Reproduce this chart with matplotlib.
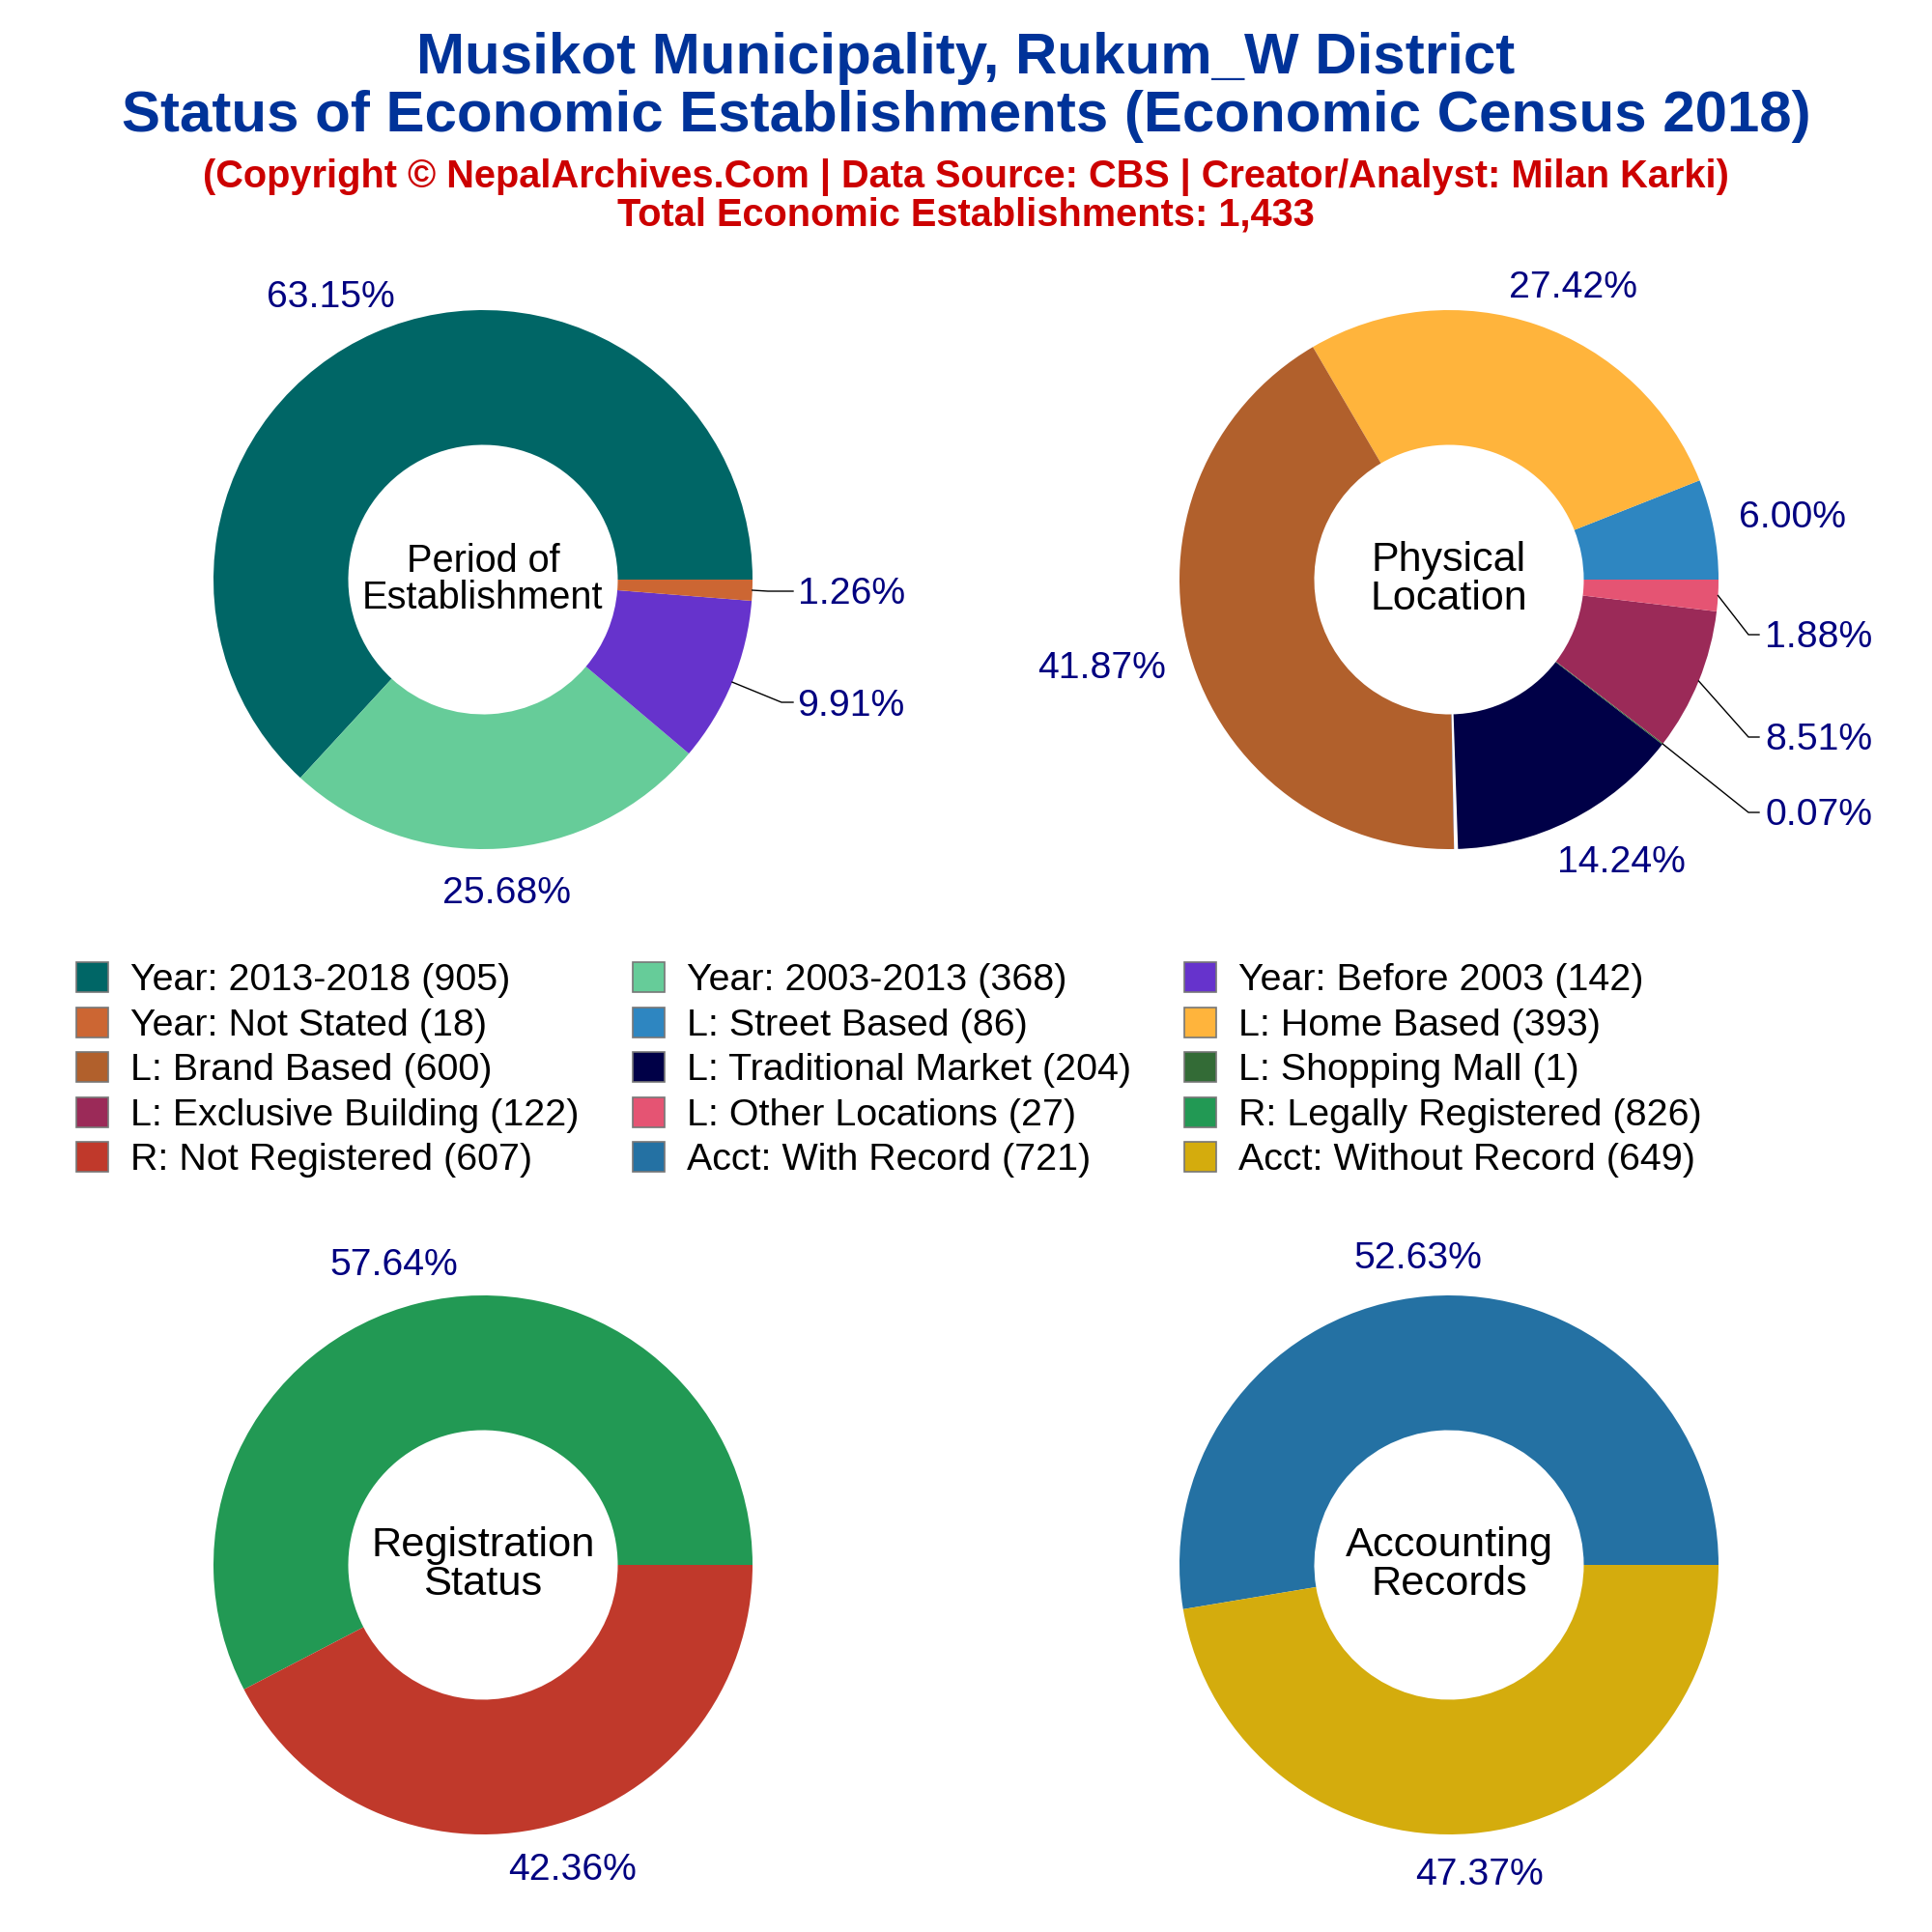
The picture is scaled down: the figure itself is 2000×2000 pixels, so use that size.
import matplotlib
matplotlib.use('Agg')
import matplotlib.pyplot as plt
import numpy as np
from matplotlib.patches import Patch, Wedge

plt.rcParams['font.family'] = ['Liberation Sans', 'DejaVu Sans']

period_labels = ['Year: 2013-2018', 'Year: 2003-2013', 'Year: Before 2003', 'Year: Not Stated']
period_values = [905, 368, 142, 18]
period_colors = ['#006666', '#66CC99', '#6633CC', '#CC6633']

location_labels = ['L: Street Based', 'L: Home Based', 'L: Brand Based', 'L: Traditional Market',
                   'L: Shopping Mall', 'L: Exclusive Building', 'L: Other Locations']
location_values = [86, 393, 600, 204, 1, 122, 27]
location_colors = ['#2E86C1', '#FFB43C', '#B1602C', '#000047', '#336B36', '#9B2A58', '#E55473']

registration_labels = ['R: Legally Registered', 'R: Not Registered']
registration_values = [826, 607]
registration_colors = ['#229954', '#C0392B']

account_labels = ['Acct: With Record', 'Acct: Without Record']
account_values = [721, 649]
account_colors = ['#2471A3', '#D4AC0D']

R_PX = 279.0
W = 2000.0

def to_units(x, y, cx, cy):
    # picture pixels to pie units
    return (x - cx) / R_PX, (cy - y) / R_PX

def donut(cx, cy, values, colors, center, center_size, texts, leaders):
    side = 2 * 1.25 * R_PX / W
    ax = fig.add_axes([cx / W - side / 2, 1 - cy / W - side / 2, side, side])
    wedges, _ = ax.pie(values, colors=colors, startangle=0, counterclock=True,
                       wedgeprops=dict(width=0.5, linewidth=0))
    ax.text(0, 0, center, ha='center', va='center', fontsize=center_size, color='black', linespacing=1.03)
    pct = 100 * np.array(values) / sum(values)
    for i, (tx, ty, ha) in texts.items():
        x, y = to_units(tx, ty + 3, cx, cy)
        ax.text(x, y, '%.2f%%' % pct[i], ha=ha, va='center', fontsize=14.1, color='#000080', clip_on=False)
    for i, (ex, ey, hx) in leaders.items():
        ang = np.deg2rad((wedges[i].theta1 + wedges[i].theta2) / 2)
        x1, y1 = to_units(ex, ey, cx, cy)
        x2, y2 = to_units(hx, ey, cx, cy)
        ax.plot([np.cos(ang), x1, x2], [np.sin(ang), y1, y2], color='black', lw=0.5, clip_on=False)
    return ax, wedges

fig = plt.figure(figsize=(10, 10), dpi=200, facecolor='white')

fig.text(0.5, 1 - 76 / W, 'Musikot Municipality, Rukum_W District', ha='center', va='baseline',
         fontsize=21.6, fontweight='bold', color='#003399')
fig.text(0.5, 1 - 136 / W, 'Status of Economic Establishments (Economic Census 2018)', ha='center', va='baseline',
         fontsize=21.6, fontweight='bold', color='#003399')
fig.text(0.5, 1 - 194 / W, '(Copyright © NepalArchives.Com | Data Source: CBS | Creator/Analyst: Milan Karki)',
         ha='center', va='baseline', fontsize=14.3, fontweight='bold', color='#CC0000')
fig.text(0.5, 1 - 233 / W, 'Total Economic Establishments: 1,433', ha='center', va='baseline',
         fontsize=14.3, fontweight='bold', color='#CC0000')

donut(500, 600, period_values, period_colors, 'Period of\nEstablishment', 14.3,
      {0: (342, 305, 'center'), 1: (524, 922, 'center'), 2: (825, 728, 'left'), 3: (826, 612, 'left')},
      {2: (809, 727, 821), 3: (795, 612, 821)})
ax_loc, loc_wedges = donut(1500, 600, location_values, location_colors, 'Physical\nLocation', 15.5,
      {0: (1855, 533, 'center'), 1: (1629, 295, 'center'), 2: (1141, 689, 'center'), 3: (1678, 890, 'center'),
       4: (1827, 841, 'left'), 5: (1827, 763, 'left'), 6: (1827, 657, 'left')},
      {4: (1810, 841, 1821), 5: (1810, 763, 1821), 6: (1810, 657, 1821)})
# thin white gap at the start of the traditional market slice
t0 = loc_wedges[3].theta1
ax_loc.add_patch(Wedge((0, 0), 1.005, t0, t0 + 0.85, width=0.51, facecolor='white', linewidth=0))
donut(500, 1620, registration_values, registration_colors, 'Registration\nStatus', 15.6,
      {0: (408, 1307, 'center'), 1: (593, 1933, 'center')}, {})
donut(1500, 1620, account_values, account_colors, 'Accounting\nRecords', 15.6,
      {0: (1468, 1300, 'center'), 1: (1531, 1938, 'center')}, {})

# legend fills by column, the picture reads by row
all_labels = period_labels + location_labels + registration_labels + account_labels
all_values = period_values + location_values + registration_values + account_values
all_colors = period_colors + location_colors + registration_colors + account_colors
handles = [Patch(facecolor=c, edgecolor='#777777', linewidth=0.6, label='%s (%d)' % (l, v))
           for l, v, c in zip(all_labels, all_values, all_colors)]
ordered = handles[0::3] + handles[1::3] + handles[2::3]
fig.legend(handles=ordered, ncol=3, loc='upper left', bbox_to_anchor=(79 / W, 0.502), frameon=False, fontsize=14.2,
           handlelength=0.84, handleheight=0.84, handletextpad=0.58, labelspacing=0.235, columnspacing=1.395,
           borderaxespad=0, borderpad=0)

fig.savefig('out.png', dpi=200)
